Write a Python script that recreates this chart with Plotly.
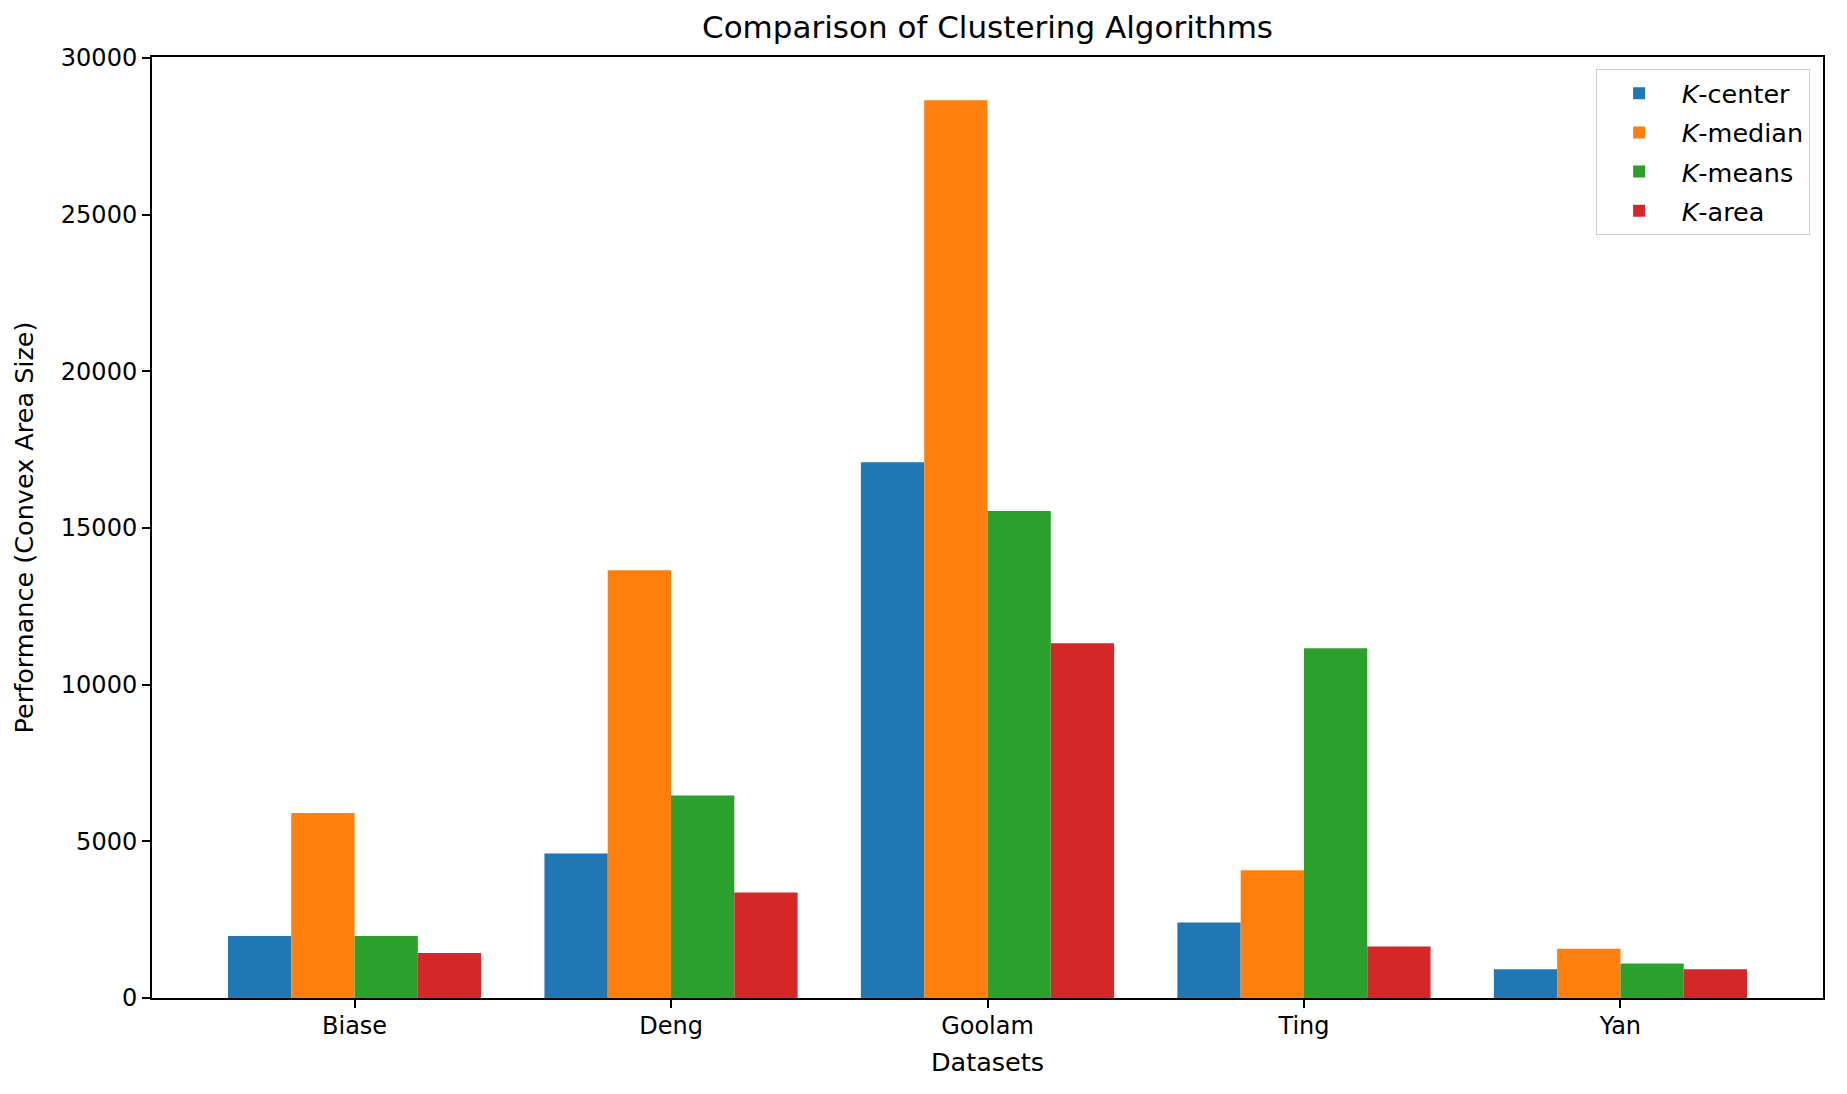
import plotly.graph_objects as go

datasets = ['Biase', 'Deng', 'Goolam', 'Ting', 'Yan']

# convex area size per algorithm
k_center = [1980, 4610, 17100, 2410, 915]
k_median = [5905, 13650, 28650, 4075, 1575]
k_means = [1980, 6460, 15545, 11160, 1100]
k_area = [1435, 3365, 11320, 1640, 915]

names = ['<i>K</i>-center', '<i>K</i>-median', '<i>K</i>-means', '<i>K</i>-area']
colors = ['#1f77b4', '#ff7f0e', '#2ca02c', '#d62728']

fig = go.Figure()
for name, vals, color in zip(names, [k_center, k_median, k_means, k_area], colors):
    fig.add_trace(go.Bar(name=name, x=datasets, y=vals, legendgroup=name,
                         marker=dict(color=color, line=dict(width=0))))

font = 'DejaVu Sans, Verdana, sans-serif'
fig.update_layout(
    width=1831, height=1078,
    margin=dict(l=144, r=16, t=49, b=88),
    barmode='group', bargap=0.2, bargroupgap=0,
    plot_bgcolor='white', paper_bgcolor='white',
    font=dict(family=font, size=24, color='black'),
    title=dict(text='Comparison of Clustering Algorithms', x=0.5, xref='paper', xanchor='center',
               y=0.982, yanchor='middle', font=dict(size=31, color='black')),
    legend=dict(x=0.992, y=0.987, xanchor='right', yanchor='top',
                bordercolor='#cccccc', borderwidth=1, bgcolor='white',
                font=dict(size=25.5), tracegroupgap=3, itemwidth=75),
)
fig.update_xaxes(
    title=dict(text='Datasets', standoff=14, font=dict(size=25.5)),
    range=[-0.64, 4.64], showline=True, linecolor='black', linewidth=2, mirror=True,
    ticks='outside', ticklen=8, tickwidth=2, tickcolor='black', showgrid=False,
    ticklabelstandoff=-3,
)
fig.update_yaxes(
    title=dict(text='Performance (Convex Area Size)', standoff=20, font=dict(size=25.5)),
    range=[0, 30030], dtick=5000, tickformat='d',
    showline=True, linecolor='black', linewidth=2, mirror=True,
    ticks='outside', ticklen=8, tickwidth=2, tickcolor='black',
    showgrid=False, zeroline=False,
)

fig.write_html('out.html')
